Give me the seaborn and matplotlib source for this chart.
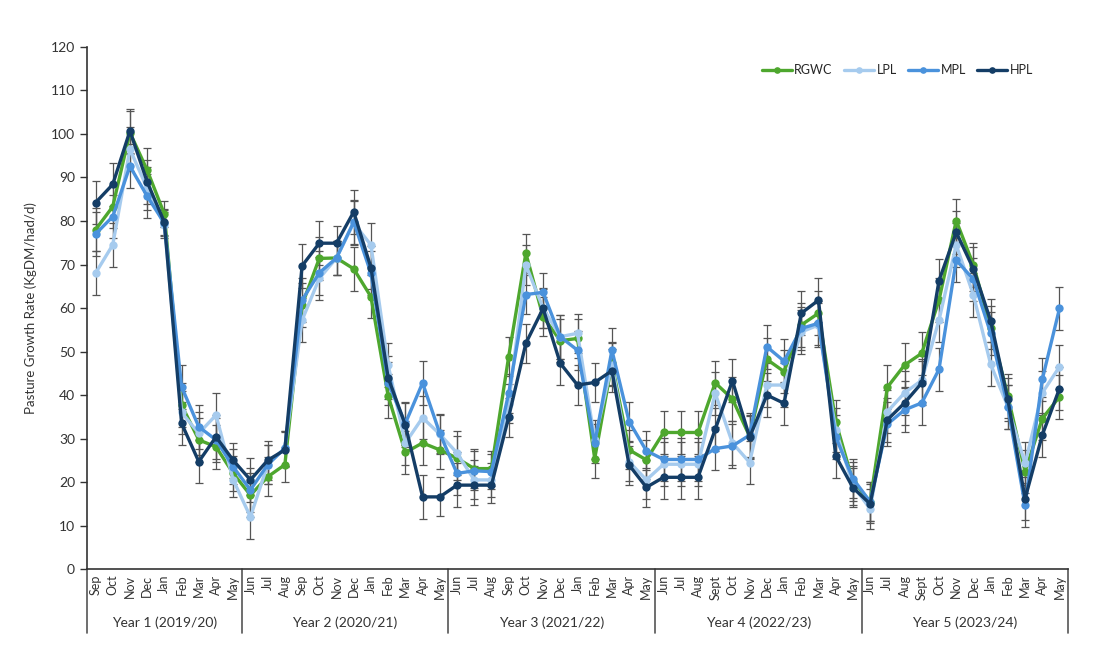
import matplotlib
matplotlib.use("Agg")
import matplotlib.pyplot as plt
import seaborn as sns
import numpy as np
import pandas as pd

# month labels per year (Sep 2019 - May 2024)
months = (["Sep", "Oct", "Nov", "Dec", "Jan", "Feb", "Mar", "Apr", "May"]
          + ["Jun", "Jul", "Aug", "Sep", "Oct", "Nov", "Dec", "Jan", "Feb", "Mar", "Apr", "May"]
          + ["Jun", "Jul", "Aug", "Sep", "Oct", "Nov", "Dec", "Jan", "Feb", "Mar", "Apr", "May"]
          + ["Jun", "Jul", "Aug", "Sept", "Oct", "Nov", "Dec", "Jan", "Feb", "Mar", "Apr", "May"]
          + ["Jun", "Jul", "Aug", "Sept", "Oct", "Nov", "Dec", "Jan", "Feb", "Mar", "Apr", "May"])
years = ["Year 1 (2019/20)", "Year 2 (2020/21)", "Year 3 (2021/22)",
         "Year 4 (2022/23)", "Year 5 (2023/24)"]
year_sizes = [9, 12, 12, 12, 12]

rgwc = [78, 83.3, 100.3, 91.7, 81.6, 37.7, 29.7, 28.1, 22,
        17, 21.2, 24, 60.7, 71.4, 71.5, 69, 62.6, 39.8, 26.8, 29, 27.4,
        25.5, 23.1, 23.1, 48.8, 72.6, 58, 52.5, 53, 25.4, 47.3, 27.4, 25.1,
        31.4, 31.4, 31.4, 42.8, 39.1, 30.5, 48.2, 45.4, 56.1, 58.8, 33.9, 20.1,
        15.5, 41.8, 46.9, 49.6, 61.8, 80.1, 69.9, 55.5, 39.8, 22.4, 34.6, 39.6]
lpl = [68, 74.5, 96.5, 87.5, 79, 36, 31.2, 35.4, 20.5,
       12, 24, 27.8, 57.2, 66.8, 71.5, 79.5, 74.5, 46.9, 29, 34.8, 31,
       26.7, 20.5, 20.5, 38, 69.9, 60, 53.4, 54.2, 29.7, 47, 24.7, 20.5,
       24.1, 24.1, 24.1, 40.4, 29, 24.5, 42.3, 42.3, 54.5, 56.1, 32, 19.3,
       13.8, 36.2, 40.5, 43.4, 57.2, 74.5, 63, 47.1, 37.3, 24.3, 40.5, 46.5]
mpl = [77, 81, 92.6, 85.7, 79.5, 41.9, 32.7, 29.7, 23.5,
       18.2, 24, 27.8, 61.8, 68.1, 71.5, 79.8, 68, 42.7, 33.5, 42.8, 31.2,
       22, 22.6, 22.4, 40.4, 63.1, 63.6, 53.4, 50.3, 28.9, 50.3, 33.9, 27.2,
       25.2, 25.2, 25.2, 27.7, 28.3, 30.8, 51.1, 47.8, 55.3, 56.5, 30.4, 20.8,
       15.5, 33.3, 36.6, 38.2, 45.9, 71, 66.6, 54.2, 37.3, 14.7, 43.6, 59.9]
hpl = [84.2, 88.4, 100.7, 89, 79.7, 33.5, 24.7, 30.4, 25,
       20.5, 25, 27.4, 69.7, 74.9, 74.9, 82.1, 69.3, 44, 33.1, 16.6, 16.6,
       19.3, 19.3, 19.3, 34.9, 51.9, 59.9, 47.3, 42.3, 42.9, 45.6, 23.9, 18.8,
       21.1, 21.1, 21.1, 32.1, 43.3, 30.3, 40, 38.1, 58.8, 61.8, 26, 18.7,
       15, 34.3, 38.2, 42.8, 66.3, 77.4, 69, 57.1, 39, 16.2, 30.8, 41.5]
# approximate standard error per month
err = [5, 5, 5, 5, 3, 5, 5, 5, 4,
       5, 4.5, 4, 5, 5, 4, 5, 5, 5, 5, 5, 4.5,
       5, 4.5, 4, 4.5, 4.5, 4.5, 5, 4.5, 4.5, 5, 4.5, 4.5,
       5, 5, 5, 5, 5, 5, 5, 5, 5, 5, 5, 4.5,
       4.5, 5, 5, 5, 5, 5, 5, 5, 5, 5, 5, 5]

series = {"RGWC": rgwc, "LPL": lpl, "MPL": mpl, "HPL": hpl}
colors = {"RGWC": "#4ea72e", "LPL": "#a6cbee", "MPL": "#4a92dc", "HPL": "#143d66"}

x = np.arange(len(months))
df = pd.concat([pd.DataFrame({"idx": x, "rate": v, "treatment": k})
                for k, v in series.items()])

sns.set_style("white")
plt.rcParams["font.family"] = ["Lato", "DejaVu Sans"]

fig = plt.figure(figsize=(11, 6.61), dpi=100)
ax = fig.add_axes([0.079, 0.139, 0.892, 0.79])

for k, v in series.items():
    ax.errorbar(x, v, yerr=err, fmt="none", ecolor="#555555",
                elinewidth=0.9, capsize=3, capthick=0.9, zorder=1)

sns.lineplot(data=df, x="idx", y="rate", hue="treatment", palette=colors,
             marker="o", markersize=6, markeredgewidth=0, linewidth=2.4,
             ax=ax, zorder=3)

ax.set_xlim(-0.5, len(months) - 0.5)
ax.set_ylim(0, 120)
ax.set_yticks(range(0, 121, 10))
ax.set_xticks(x)
ax.set_xticklabels(months, rotation=90, fontsize=9, color="#333333")
ax.tick_params(axis="x", length=0, pad=4)
ax.tick_params(axis="y", length=5, width=1, direction="out", labelsize=10,
               colors="#333333", left=True)
ax.set_xlabel("")
ax.set_ylabel("Pasture Growth Rate (KgDM/had/d)", fontsize=9.5, color="#333333",
              labelpad=10)

for s in ["top", "right"]:
    ax.spines[s].set_visible(False)
for s in ["left", "bottom"]:
    ax.spines[s].set_color("#333333")
    ax.spines[s].set_linewidth(1.2)

# year group separators and labels under the month labels
trans = ax.get_xaxis_transform()
edge = -0.5
bounds = [edge]
for n in year_sizes:
    edge += n
    bounds.append(edge)
for b in bounds:
    ax.plot([b, b], [0, -0.122], transform=trans, color="#555555",
            linewidth=1.2, clip_on=False)
for i, name in enumerate(years):
    ax.text((bounds[i] + bounds[i + 1]) / 2, -0.102, name, transform=trans,
            ha="center", va="center", fontsize=10, color="#333333")

ax.legend(loc="center", bbox_to_anchor=(0.826, 0.956), ncol=4, frameon=False,
          fontsize=9, handlelength=2.4, columnspacing=0.9, handletextpad=0.2,
          markerscale=0.8, title=None)

fig.savefig("out.png", dpi=100, facecolor="white")
